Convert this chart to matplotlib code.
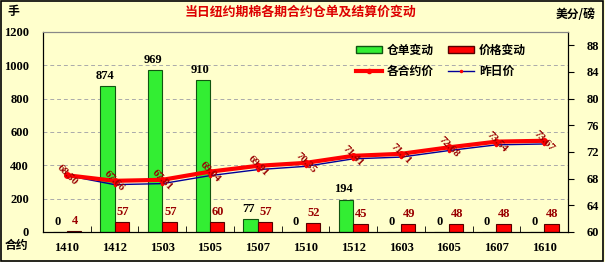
import numpy as np
import matplotlib
matplotlib.use('Agg')
import matplotlib.pyplot as plt
from matplotlib.patches import Patch
from matplotlib.lines import Line2D

plt.rcParams['font.family'] = ['Liberation Serif', 'Noto Sans CJK SC']
plt.rcParams['font.weight'] = 'bold'

contracts = ['1410', '1412', '1503', '1505', '1507', '1510', '1512', '1603', '1605', '1607', '1610']
receipt_change = [0, 874, 969, 910, 77, 0, 194, 0, 0, 0, 0]
price_change = [4, 57, 57, 60, 57, 52, 45, 49, 48, 48, 48]
settle_price = [68.50, 67.66, 67.81, 69.04, 69.91, 70.35, 71.41, 71.71, 72.68, 73.54, 73.67]
prev_price = [68.46, 67.09, 67.24, 68.44, 69.34, 69.83, 70.96, 71.22, 72.20, 73.06, 73.19]

bg = '#ffffcc'
fig = plt.figure(figsize=(6.05, 2.62), dpi=100, facecolor=bg)
fig.patches.append(plt.Rectangle((0.002, 0.004), 0.995, 0.992, transform=fig.transFigure,
                                 fill=False, edgecolor='black', linewidth=1.2))
ax = fig.add_axes([0.071, 0.115, 0.868, 0.763], facecolor=bg)
ax2 = ax.twinx()

x = np.arange(len(contracts))
w = 0.3
ax.bar(x - w / 2, receipt_change, w, color='#33ee33', edgecolor='#115511', linewidth=0.8, zorder=2)
ax.bar(x + w / 2, price_change, w, color='#ff0000', edgecolor='#550000', linewidth=0.8, zorder=2)

for i in x:
    ax.text(i - w / 2 - 0.05, receipt_change[i] + 25, str(receipt_change[i]), ha='center', va='bottom',
            fontsize=9, fontweight='bold', color='black')
    ax.text(i + w / 2 + 0.02, price_change[i] + 25, str(price_change[i]), ha='center', va='bottom',
            fontsize=9, fontweight='bold', color='#990000')

ax.set_ylim(0, 1200)
ax.set_xlim(-0.5, len(contracts) - 0.5)
ax.set_yticks(range(0, 1201, 200))
ax.yaxis.grid(True, linestyle=(0, (4, 3)), color='#aaaaaa', linewidth=0.7)
ax.set_axisbelow(True)
ax.set_xticks(x)
ax.set_xticklabels(contracts)
ax.set_xticks(np.arange(-0.5, len(contracts), 1), minor=True)
ax.tick_params(axis='x', which='major', length=0, labelsize=9, pad=7)
ax.tick_params(axis='x', which='minor', length=4, direction='in')
ax.tick_params(axis='y', labelsize=9, length=0, pad=10)

ax2.plot(x, prev_price, color='#000099', linewidth=1, marker='o', markersize=1.5,
         markerfacecolor='red', markeredgecolor='red', zorder=3)
ax2.plot(x, settle_price, color='#ff0000', linewidth=3, marker='o', markersize=4, zorder=4)
for i in x:
    ax2.text(i, settle_price[i], '%.2f' % settle_price[i], rotation=-45, ha='center', va='center',
             fontsize=8, fontweight='bold', color='#990000', zorder=5, rotation_mode='anchor')
ax2.set_ylim(60, 90)
ax2.set_yticks(range(60, 89, 4))
ax2.tick_params(axis='y', labelsize=9, direction='out', length=4, pad=9)

for a in (ax, ax2):
    a.spines['top'].set_color('#888888')
    a.spines['left'].set_color('black')
    a.spines['right'].set_color('black')
    a.spines['bottom'].set_color('black')

# legend fills column by column: green / red line in col 1, red bar / blue line in col 2
handles = [Patch(facecolor='#33ee33', edgecolor='#115511'),
           Line2D([], [], color='#ff0000', linewidth=3, marker='o', markersize=3),
           Patch(facecolor='#ff0000', edgecolor='#550000'),
           Line2D([], [], color='#000099', linewidth=1, marker='o', markersize=1.5,
                  markerfacecolor='red', markeredgecolor='red')]
labels = ['仓单变动', '各合约价', '价格变动', '昨日价']
leg = ax2.legend(handles, labels, loc='upper right', bbox_to_anchor=(0.94, 0.995), ncol=2, frameon=False,
                 prop={'family': ['Noto Sans CJK SC'], 'weight': 'bold', 'size': 8.5},
                 handlelength=2.2, handletextpad=0.4, columnspacing=1.2, handleheight=0.6,
                 labelspacing=0.7)

fig.text(0.497, 0.955, '当日纽约期棉各期合约仓单及结算价变动', ha='center', va='center', color='#dd0000',
         fontsize=9.3, fontweight='bold', family=['Noto Sans CJK SC'])
fig.text(0.013, 0.955, '手', ha='left', va='center', fontsize=8.5, fontweight='bold',
         family=['Noto Sans CJK SC'])
fig.text(0.985, 0.945, '美分/磅', ha='right', va='center', fontsize=8.5, fontweight='bold',
         family=['Noto Sans CJK SC'])
fig.text(0.008, 0.062, '合约', ha='left', va='center', fontsize=8.5, fontweight='bold',
         family=['Noto Sans CJK SC'])

plt.savefig('out.png', dpi=100, facecolor=bg)
